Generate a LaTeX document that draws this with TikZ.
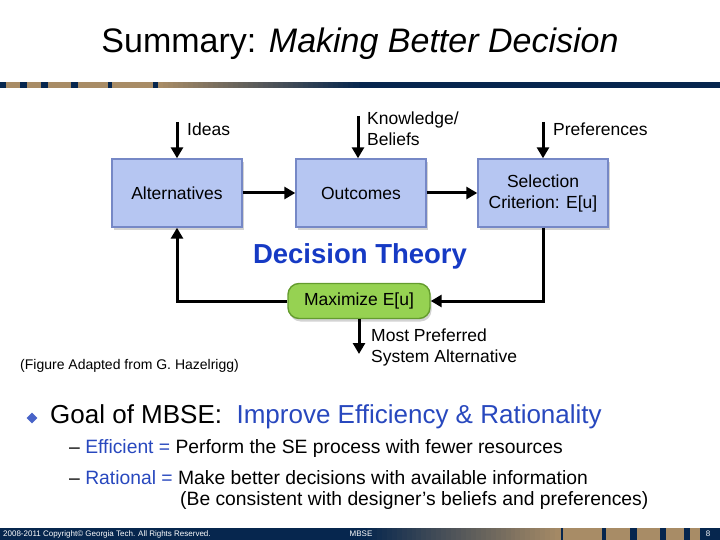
\documentclass[tikz,border=0pt]{standalone}
\usepackage{fontspec}
\setmainfont{Liberation Sans}
\usetikzlibrary{arrows.meta,positioning,shadows,shapes.geometric}
\definecolor{navy}{RGB}{6,38,78}
\definecolor{tan}{RGB}{168,140,102}
\definecolor{boxblue}{RGB}{182,198,242}
\definecolor{boxedge}{RGB}{118,136,198}
\definecolor{leafgreen}{RGB}{150,210,82}
\definecolor{leafedge}{RGB}{100,156,46}
\definecolor{dtblue}{RGB}{22,58,196}
\definecolor{goalblue}{RGB}{40,72,190}
\tikzset{
  procbox/.style={draw=boxedge, fill=boxblue, line width=1.4pt, minimum width=130pt,
    minimum height=68pt, align=center, font=\fontsize{17.5}{21}\selectfont,
    drop shadow={shadow xshift=1.5pt, shadow yshift=-3pt, opacity=0.35}},
  maxbox/.style={draw=leafedge, fill=leafgreen, line width=1.4pt, rounded corners=11pt,
    minimum width=142pt, minimum height=35pt, font=\fontsize{17.5}{21}\selectfont,
    drop shadow={shadow xshift=1.5pt, shadow yshift=-3pt, opacity=0.35}},
  flow/.style={line width=3pt, -{Triangle[length=11pt,width=12pt]}},
  lbl/.style={align=left, anchor=west, inner sep=0pt, font=\fontsize{17.5}{21}\selectfont},
  foot/.style={text=white, inner sep=0pt, font=\fontsize{8}{9}\selectfont}
}
\begin{document}
\begin{tikzpicture}[x=1pt, y=-1pt]
  \useasboundingbox (0,0) rectangle (720,540);

  % title
  \node (title) at (360,44) {\fontsize{34}{37}\selectfont Summary: \textit{Making Better Decision}};

  % top bar
  \fill[navy] (0,82) rectangle (720,88);
  \foreach \a/\b in {6/20, 27/41, 48/71, 78/108, 112/153}
    \fill[tan] (\a,82) rectangle (\b,88);
  \foreach \i in {0,...,39}
    \pgfmathsetmacro{\pct}{100-\i*2.5}
    \fill[tan!\pct!navy] (158+\i*5,82) rectangle (163.6+\i*5,88);

  % decision loop
  \node[procbox] (alt) at (177,193) {Alternatives};
  \node[procbox] (out) at (361,193) {Outcomes};
  \node[procbox] (sel) at (543,193) {Selection\\Criterion: E[u]};
  \node[maxbox] (max) at (359,301) {Maximize E[u]};

  \coordinate (ideas) at (177,122);
  \coordinate (know) at (358,116);
  \coordinate (pref) at (543,122);
  \coordinate (mpsa) at (359,354);
  \coordinate (ll) at (177,301);
  \coordinate (lr) at (543,301);

  \draw[flow] (ideas) -- (alt.north -| ideas);
  \draw[flow] (know) -- (out.north -| know);
  \draw[flow] (pref) -- (sel.north);
  \draw[flow] (alt) -- (out);
  \draw[flow] (out) -- (sel);
  \draw[flow] (sel.south) -- (lr) -- (max.east);
  \draw[flow] (max.west) -- (ll) -- (alt.south);
  \draw[flow] (max.south) -- (mpsa);

  \node[lbl] (lideas) at (187,129) {Ideas};
  \node[lbl] (lknow) at (367,129) {Knowledge/\\Beliefs};
  \node[lbl] (lpref) at (553,129) {Preferences};
  \node[lbl] (lmpsa) at (371,347) {Most Preferred\\System Alternative};

  \node[text=dtblue, font=\fontsize{27.5}{30}\selectfont\bfseries] (dt) at (360,256) {Decision Theory};
  \node[anchor=west, inner sep=0pt, font=\fontsize{14}{16}\selectfont] (src) at (20,366) {(Figure Adapted from G. Hazelrigg)};

  % bullets
  \node[diamond, fill=goalblue!85!white, inner sep=0pt, minimum size=11pt] (dia) at (32,418) {};
  \node[anchor=west, inner sep=0pt, font=\fontsize{26}{28}\selectfont] (goal) at (50,417)
    {Goal of MBSE:\ \ \textcolor{goalblue}{Improve Efficiency \& Rationality}};
  \node[anchor=west, inner sep=0pt, font=\fontsize{19.3}{22}\selectfont] (eff) at (69,449)
    {– \textcolor{goalblue}{Efficient =} Perform the SE process with fewer resources};
  \node[anchor=west, inner sep=0pt, font=\fontsize{19.3}{22}\selectfont] (rat) at (69,478)
    {– \textcolor{goalblue}{Rational =} Make better decisions with available information};
  \node[anchor=west, inner sep=0pt, font=\fontsize{19.3}{22}\selectfont] (cons) at (180,501)
    {(Be consistent with designer’s beliefs and preferences)};

  % bottom bar
  \fill[navy] (0,528) rectangle (720,540);
  \foreach \i in {0,...,39}
    \pgfmathsetmacro{\pct}{\i*2.5}
    \fill[tan!\pct!navy] (362+\i*4.95,528) rectangle (367.5+\i*4.95,540);
  \foreach \a/\b in {563/602, 606/630, 637/660, 666/684, 690/700}
    \fill[tan] (\a,528) rectangle (\b,540);
  \node[foot, anchor=west] (copy) at (3,534) {2008-2011 Copyright© Georgia Tech. All Rights Reserved.};
  \node[foot] (mbse) at (361,534) {MBSE};
  \node[foot] (page) at (708,534) {8};
\end{tikzpicture}
\end{document}
